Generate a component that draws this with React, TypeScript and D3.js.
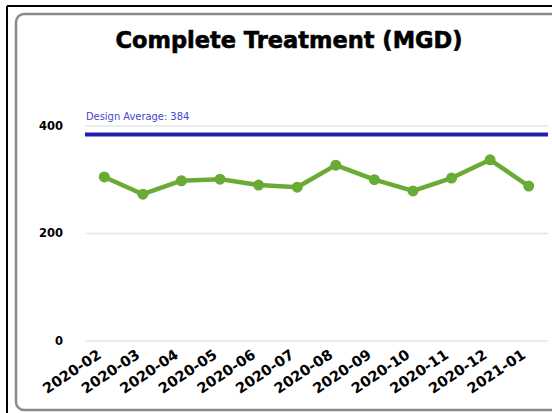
import React from "react";
import * as d3 from "d3";

const months = ["2020-02","2020-03","2020-04","2020-05","2020-06","2020-07","2020-08","2020-09","2020-10","2020-11","2020-12","2021-01"];
const flows = [305, 273, 298, 301, 290, 286, 327, 300, 279, 303, 337, 288];
const designAverage = 384;
const yTicks = [0, 200, 400];
const title = "Complete Treatment (MGD)";

const W = 552, H = 413;
const left = 85, right = 548, top = 99, bottom = 341;
const heavy = "DejaVu Sans, Verdana, sans-serif";

export default function App() {
  const x = d3.scaleBand<string>().domain(months).range([left, right]).padding(0);
  const y = d3.scaleLinear().domain([0, 450]).range([bottom, top]);
  const cx = (m: string) => (x(m) as number) + x.bandwidth() / 2;
  const line = d3.line<number>().x((_, i) => cx(months[i])).y((d) => y(d));
  return (
    <div style={{ position: "absolute", left: 0, top: 0 }}>
      <svg width={W} height={H} style={{ display: "block", background: "#fff" }}>
        <line x1={7} y1={6} x2={W} y2={6} stroke="#000" strokeWidth={2} />
        <line x1={7} y1={6} x2={7} y2={H} stroke="#000" strokeWidth={2} />
        <rect x={16} y={14} width={W + 10} height={396} rx={8} fill="#fff" stroke="#8a8a8a" strokeWidth={2.5} />
        <text x={289} y={48} textAnchor="middle" fontFamily={heavy} fontWeight="bold" fontSize={22.5} fill="#000" stroke="#000" strokeWidth={0.6}>{title}</text>
        {yTicks.map((t) => (
          <g key={t}>
            <line x1={left} x2={right} y1={y(t)} y2={y(t)} stroke="#e6e6e6" strokeWidth={1.5} />
            <text x={63} y={y(t) + 4} textAnchor="end" fontFamily={heavy} fontWeight="bold" fontSize={11.5} fill="#000">{t}</text>
          </g>
        ))}
        <line x1={left} x2={right} y1={y(designAverage)} y2={y(designAverage)} stroke="#1f1fb0" strokeWidth={4} />
        <text x={86} y={y(designAverage) - 14} fontFamily="DejaVu Sans Condensed, Roboto, sans-serif" fontSize={11} fill="#4646cc">{`Design Average: ${designAverage}`}</text>
        <path d={line(flows) || ""} fill="none" stroke="#6aab35" strokeWidth={4.5} strokeLinejoin="round" />
        {flows.map((v, i) => (
          <circle key={i} cx={cx(months[i])} cy={y(v)} r={5.5} fill="#6aab35" />
        ))}
        {months.map((m) => (
          <text key={m} transform={`translate(${cx(m) - 2},${bottom + 16}) rotate(-34)`} textAnchor="end" fontFamily={heavy} fontWeight="bold" fontSize={14.5} fill="#000">{m}</text>
        ))}
      </svg>
    </div>
  );
}
